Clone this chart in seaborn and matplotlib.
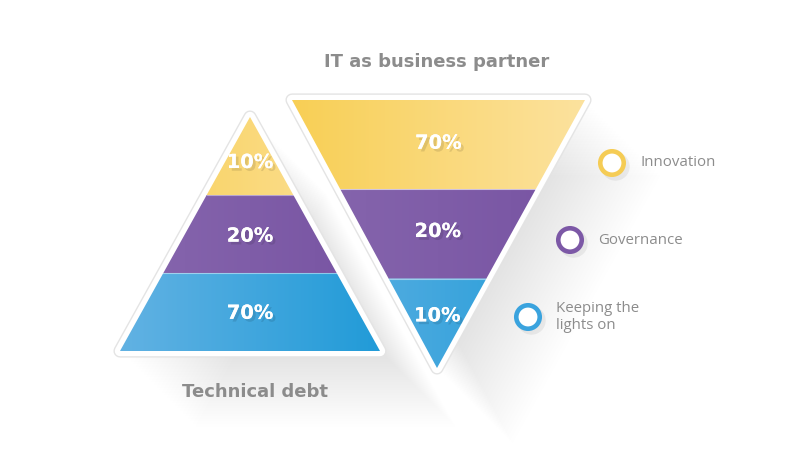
import numpy as np
import pandas as pd
import matplotlib
matplotlib.use("Agg")
import matplotlib.pyplot as plt
import seaborn as sns
from matplotlib.patches import Polygon
from matplotlib.colors import LinearSegmentedColormap
import matplotlib.patheffects as pe

# ── Data ──────────────────────────────────────────────────────────────────────
tiers = ["Innovation", "Governance", "Keeping the\nlights on"]
tech_debt_pct = [10, 20, 70]      # pyramid, top -> bottom
partner_pct = [70, 20, 10]        # inverted pyramid, top -> bottom
titles = ["Technical debt", "IT as business partner"]

# ── Style ─────────────────────────────────────────────────────────────────────
GRAD = {  # (left colour, right colour) per tier
    "Innovation": ("#F8CF55", "#FCE29E"),
    "Governance": ("#8767AE", "#7753A2"),
    "Keeping the\nlights on": ("#62B2E3", "#219BD8"),
}
RING = ["#F5CC55", "#7C58A6", "#3AA3DE"]
TEXT_GREY = "#8C8C8C"
BOLD_FONT = ["DejaVu Sans"]

sns.set_theme(style="white")
plt.rcParams["font.family"] = ["Open Sans", "DejaVu Sans"]

fig = plt.figure(figsize=(8, 4.54), dpi=100)
ax = fig.add_axes([0, 0, 1, 1])
ax.set_axis_off()


def edge_x(y, p0, p1):
    t = (y - p0[1]) / (p1[1] - p0[1])
    return p0[0] + t * (p1[0] - p0[0])


def long_shadow(pts, steps=30, step=2.6):
    for k in range(1, steps):
        sh = np.array(pts) + k * step
        ax.add_patch(Polygon(sh, closed=True, fc="#8a8a8a", ec="none",
                             alpha=0.006, zorder=1))


def draw_triangle(pts, left_edge, right_edge, values, y_top, y_bot):
    long_shadow(pts)
    x_min = min(p[0] for p in pts)
    x_max = max(p[0] for p in pts)
    # white rounded frame with faint outline
    ax.add_patch(Polygon(pts, closed=True, fc="white", ec="#E4E4E4",
                         lw=9.5, joinstyle="round", zorder=2))
    ax.add_patch(Polygon(pts, closed=True, fc="white", ec="white",
                         lw=7.5, joinstyle="round", zorder=3))
    bounds = np.linspace(y_top, y_bot, len(values) + 1)
    for i, (tier, val) in enumerate(zip(tiers, values)):
        y0, y1 = bounds[i], bounds[i + 1]
        band = [(edge_x(y0, *left_edge), y0), (edge_x(y0, *right_edge), y0),
                (edge_x(y1, *right_edge), y1), (edge_x(y1, *left_edge), y1)]
        xs = [p[0] for p in band]
        poly = Polygon(band, closed=True, fc="none", ec="none", zorder=4)
        ax.add_patch(poly)
        cmap = LinearSegmentedColormap.from_list("g", GRAD[tier])
        im = ax.imshow(np.linspace(0, 1, 256)[None, :], cmap=cmap,
                       extent=[x_min, x_max, y1, y0], aspect="auto",
                       zorder=4, interpolation="bilinear")
        im.set_clip_path(poly)
        if i > 0:
            ax.plot([band[0][0], band[1][0]], [y0, y0], color="white",
                    lw=0.8, alpha=0.45, zorder=5)
        # label between band middle and area centroid
        a, b, h = xs[1] - xs[0], xs[2] - xs[3], y1 - y0
        cy = y0 + h * (a + 2 * b) / (3 * (a + b))
        ty = 0.5 * (cy + (y0 + y1) / 2)
        cx = np.mean(xs)
        ax.text(cx, ty, f"{val}%", color="white", fontsize=14,
                fontweight="bold", family=BOLD_FONT, ha="center",
                va="center", zorder=6,
                path_effects=[pe.withSimplePatchShadow(offset=(2, -2),
                                                       shadow_rgbFace="#000000",
                                                       alpha=0.10),
                              pe.Normal()])


# left pyramid
apex, bl, br = (250, 117), (120, 351), (380, 351)
draw_triangle([apex, br, bl], (apex, bl), (apex, br), tech_debt_pct, 117, 351)

# right inverted pyramid
tl, tr, bot = (292, 100), (585, 100), (437, 368)
draw_triangle([tl, tr, bot], (tl, bot), (tr, bot), partner_pct, 100, 368)

ax.text(255, 392, titles[0], color=TEXT_GREY, fontsize=13,
        fontweight="bold", family=BOLD_FONT, ha="center", va="center")
ax.text(437, 62, titles[1], color=TEXT_GREY, fontsize=13,
        fontweight="bold", family=BOLD_FONT, ha="center", va="center")

# legend rings
legend = pd.DataFrame({
    "tier": tiers,
    "x": [612 - 42 * i for i in range(3)],
    "y": [163 + 77 * i for i in range(3)],
})
sns.scatterplot(data=legend.assign(x=legend.x + 3, y=legend.y + 3), x="x",
                y="y", s=420, color="#000000", alpha=0.06, linewidth=0,
                ax=ax, zorder=7, legend=False)
sns.scatterplot(data=legend, x="x", y="y", hue="tier", palette=RING, s=285,
                linewidth=3.3, ax=ax, zorder=8, legend=False)
ax.collections[-1].set_facecolor("white")
ax.collections[-1].set_edgecolor(RING)
for _, r in legend.iterrows():
    ax.text(r.x + 28, r.y, r.tier, color=TEXT_GREY, fontsize=10.8,
            ha="left", va="center", linespacing=1.15, zorder=9)

ax.set_xlim(0, 800)
ax.set_ylim(454, 0)
ax.set_aspect("auto")
fig.savefig("out.png", dpi=100, facecolor="white")
